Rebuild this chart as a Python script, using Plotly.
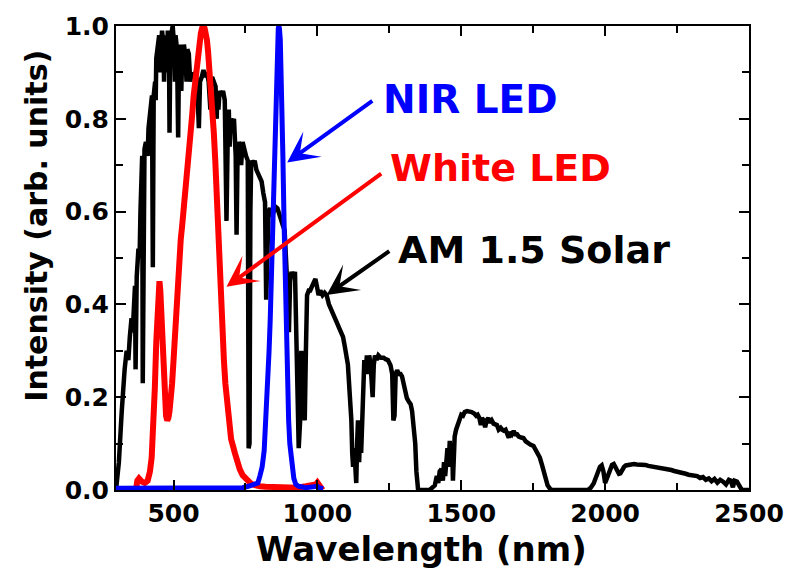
import plotly.graph_objects as go

# AM 1.5 solar spectrum (normalised)
solar_wl = [
    300, 310, 320, 325, 330, 337, 343, 348, 354, 358,
    362, 366, 368, 372, 378, 382, 385, 388, 391, 393,
    395, 399, 404, 410, 413, 420, 425, 428, 431, 436,
    438, 440, 445, 450, 452, 455, 460, 465, 467, 470,
    475, 478, 480, 484, 486, 489, 493, 497, 502, 505,
    507, 512, 516, 519, 524, 527, 530, 533, 536, 542,
    545, 548, 553, 558, 563, 568, 575, 582, 588, 592,
    598, 604, 610, 616, 622, 628, 630, 634, 640, 646,
    650, 652, 656, 660, 666, 672, 678, 684, 688, 692,
    695, 698, 704, 710, 716, 719, 722, 727, 733, 735,
    740, 746, 752, 758, 761, 764, 767, 770, 776, 782,
    788, 794, 800, 806, 812, 818, 822, 826, 830, 836,
    842, 848, 855, 861, 868, 874, 880, 886, 892, 897,
    901, 905, 910, 916, 922, 926, 930, 935, 940, 944,
    948, 952, 956, 960, 964, 970, 975, 982, 988, 993,
    998, 1004, 1010, 1018, 1025, 1032, 1040, 1048, 1055, 1062,
    1068, 1075, 1082, 1089, 1095, 1100, 1106, 1110, 1114, 1118,
    1121, 1124, 1128, 1132, 1135, 1138, 1141, 1145, 1148, 1152,
    1156, 1160, 1163, 1168, 1172, 1176, 1180, 1185, 1188, 1192,
    1196, 1200, 1206, 1212, 1220, 1230, 1237, 1245, 1254, 1260,
    1264, 1268, 1272, 1277, 1283, 1289, 1294, 1300, 1305, 1311,
    1318, 1324, 1329, 1334, 1340, 1344, 1347, 1350, 1390, 1400,
    1408, 1415, 1420, 1425, 1431, 1436, 1440, 1444, 1448, 1452,
    1456, 1460, 1464, 1468, 1471, 1474, 1477, 1482, 1488, 1494,
    1500, 1506, 1512, 1520, 1528, 1536, 1545, 1552, 1557, 1563,
    1568, 1572, 1578, 1583, 1588, 1594, 1600, 1606, 1612, 1618,
    1624, 1630, 1637, 1642, 1648, 1654, 1660, 1665, 1670, 1676,
    1682, 1688, 1694, 1700, 1708, 1716, 1724, 1732, 1740, 1751,
    1760, 1768, 1773, 1780, 1786, 1790, 1795, 1800, 1808, 1815,
    1940, 1950, 1960, 1968, 1975, 1982, 1988, 1994, 2000, 2006,
    2012, 2018, 2024, 2030, 2036, 2042, 2048, 2053, 2060, 2066,
    2072, 2080, 2090, 2100, 2110, 2120, 2130, 2140, 2150, 2160,
    2170, 2180, 2190, 2200, 2210, 2220, 2230, 2240, 2250, 2260,
    2270, 2280, 2290, 2300, 2310, 2320, 2330, 2340, 2350, 2360,
    2370, 2380, 2390, 2400, 2410, 2420, 2430, 2437, 2444, 2450,
    2458, 2466, 2475, 2500,
]
solar_int = [
    0.0, 0.06, 0.17, 0.23, 0.26, 0.30, 0.28, 0.33, 0.37, 0.34,
    0.42, 0.44, 0.26, 0.46, 0.52, 0.50, 0.60, 0.67, 0.72, 0.23,
    0.70, 0.735, 0.75, 0.72, 0.78, 0.82, 0.85, 0.48, 0.85, 0.88,
    0.84, 0.93, 0.97, 0.98, 0.90, 0.95, 0.99, 0.96, 0.88, 0.98,
    0.95, 0.90, 0.99, 0.96, 0.77, 0.97, 0.99, 1.0, 0.96, 0.88,
    0.98, 0.95, 0.76, 0.93, 0.96, 0.86, 0.94, 0.90, 0.96, 0.93,
    0.88, 0.95, 0.94, 0.88, 0.90, 0.89, 0.90, 0.88, 0.78, 0.88,
    0.89, 0.905, 0.89, 0.90, 0.88, 0.82, 0.875, 0.89, 0.88, 0.87,
    0.80, 0.86, 0.82, 0.86, 0.85, 0.86, 0.84, 0.58, 0.75, 0.82,
    0.74, 0.80, 0.79, 0.80, 0.72, 0.55, 0.70, 0.75, 0.74, 0.70,
    0.75, 0.73, 0.72, 0.71, 0.09, 0.10, 0.60, 0.71, 0.70, 0.71,
    0.69, 0.68, 0.67, 0.665, 0.64, 0.62, 0.41, 0.50, 0.60, 0.607,
    0.59, 0.60, 0.61, 0.607, 0.59, 0.58, 0.57, 0.56, 0.50, 0.42,
    0.34, 0.45, 0.47, 0.46, 0.47, 0.38, 0.25, 0.09, 0.15, 0.30,
    0.25, 0.20, 0.15, 0.30, 0.42, 0.43, 0.43, 0.44, 0.45, 0.455,
    0.44, 0.42, 0.43, 0.42, 0.425, 0.42, 0.40, 0.39, 0.38, 0.37,
    0.36, 0.35, 0.34, 0.33, 0.31, 0.29, 0.27, 0.23, 0.20, 0.15,
    0.08, 0.05, 0.09, 0.04, 0.015, 0.10, 0.15, 0.06, 0.12, 0.08,
    0.18, 0.25, 0.28, 0.26, 0.29, 0.25, 0.29, 0.27, 0.21, 0.20,
    0.27, 0.29, 0.28, 0.29, 0.285, 0.285, 0.282, 0.28, 0.269, 0.25,
    0.15, 0.16, 0.25, 0.258, 0.25, 0.25, 0.245, 0.23, 0.21, 0.198,
    0.19, 0.185, 0.17, 0.14, 0.10, 0.04, 0.005, 0.0, 0.0, 0.004,
    0.01, 0.03, 0.015, 0.04, 0.045, 0.02, 0.06, 0.03, 0.07, 0.09,
    0.05, 0.106, 0.06, 0.10, 0.02, 0.10, 0.115, 0.13, 0.14, 0.155,
    0.162, 0.16, 0.168, 0.17, 0.17, 0.168, 0.165, 0.16, 0.162, 0.155,
    0.14, 0.155, 0.15, 0.135, 0.15, 0.155, 0.145, 0.15, 0.143, 0.14,
    0.14, 0.13, 0.134, 0.13, 0.128, 0.13, 0.12, 0.113, 0.125, 0.12,
    0.127, 0.12, 0.12, 0.115, 0.113, 0.112, 0.105, 0.10, 0.098, 0.095,
    0.085, 0.075, 0.07, 0.055, 0.04, 0.035, 0.02, 0.01, 0.003, 0.0,
    0.0, 0.005, 0.014, 0.03, 0.043, 0.05, 0.053, 0.04, 0.015, 0.025,
    0.038, 0.045, 0.054, 0.056, 0.05, 0.04, 0.035, 0.036, 0.045, 0.05,
    0.053, 0.054, 0.055, 0.056, 0.055, 0.055, 0.056, 0.054, 0.052, 0.051,
    0.05, 0.048, 0.049, 0.047, 0.046, 0.044, 0.043, 0.041, 0.04, 0.038,
    0.036, 0.035, 0.033, 0.032, 0.03, 0.03, 0.026, 0.028, 0.022, 0.025,
    0.019, 0.024, 0.016, 0.022, 0.018, 0.012, 0.022, 0.02, 0.006, 0.02,
    0.018, 0.008, 0.0, 0.0,
]

# White LED emission (blue pump + phosphor band)
white_wl = [
    300, 370, 374, 380, 390, 400, 410, 418, 424, 430,
    435, 440, 444, 448, 451, 454, 458, 462, 466, 470,
    474, 478, 482, 486, 490, 495, 500, 505, 510, 515,
    520, 525, 530, 535, 540, 545, 550, 555, 560, 565,
    570, 575, 580, 585, 590, 595, 600, 604, 608, 612,
    616, 620, 625, 630, 635, 640, 645, 650, 655, 660,
    665, 670, 675, 680, 685, 690, 695, 700, 713, 720,
    730, 740, 750, 760, 770, 780, 790, 800, 820, 850,
    880, 900, 930, 960, 980, 995, 1000, 1005, 1012, 1018,
]
white_int = [
    0.0, 0.002, 0.02, 0.025, 0.018, 0.015, 0.02, 0.04, 0.07, 0.13,
    0.22, 0.32, 0.40, 0.44, 0.45, 0.43, 0.36, 0.29, 0.22, 0.18,
    0.16, 0.15, 0.155, 0.17, 0.19, 0.23, 0.28, 0.34, 0.40, 0.46,
    0.51, 0.54, 0.57, 0.60, 0.63, 0.67, 0.71, 0.75, 0.78, 0.81,
    0.85, 0.88, 0.91, 0.94, 0.965, 0.985, 0.997, 1.0, 0.995, 0.985,
    0.97, 0.945, 0.91, 0.87, 0.82, 0.77, 0.71, 0.63, 0.54, 0.47,
    0.40, 0.33, 0.28, 0.23, 0.19, 0.155, 0.13, 0.11, 0.08, 0.06,
    0.045, 0.032, 0.024, 0.017, 0.013, 0.011, 0.009, 0.008, 0.007, 0.006,
    0.005, 0.004, 0.005, 0.008, 0.01, 0.012, 0.016, 0.01, 0.006, 0.0,
]

# NIR LED emission
nir_wl = [
    300, 700, 740, 760, 775, 785, 793, 800, 808, 815,
    822, 827, 832, 836, 840, 844, 848, 852, 855, 858,
    861, 864, 866, 868, 871, 874, 877, 880, 884, 887,
    890, 893, 896, 900, 904, 908, 913, 918, 925, 935,
    960, 990, 1000, 1005, 1020,
]
nir_int = [
    0.004, 0.004, 0.005, 0.008, 0.01, 0.012, 0.015, 0.03, 0.05, 0.085,
    0.16, 0.226, 0.30, 0.367, 0.46, 0.58, 0.68, 0.78, 0.85, 0.92,
    0.97, 0.995, 1.0, 0.995, 0.97, 0.91, 0.83, 0.72, 0.58, 0.48,
    0.40, 0.31, 0.23, 0.15, 0.10, 0.075, 0.045, 0.025, 0.012, 0.008,
    0.005, 0.006, 0.008, 0.005, 0.003,
]

x_tickvals = [500, 1000, 1500, 2000, 2500]
y_tickvals = [0.0, 0.2, 0.4, 0.6, 0.8, 1.0]

FONT = "DejaVu Sans"

fig = go.Figure()
fig.add_trace(go.Scatter(x=solar_wl, y=solar_int, mode="lines", name="AM 1.5 Solar",
                         line=dict(color="#000000", width=4.5)))
fig.add_trace(go.Scatter(x=white_wl, y=white_int, mode="lines", name="White LED",
                         line=dict(color="#FF0000", width=6)))
fig.add_trace(go.Scatter(x=nir_wl, y=nir_int, mode="lines", name="NIR LED",
                         line=dict(color="#0000FF", width=5)))

axis_common = dict(
    showline=True, linecolor="black", linewidth=2, mirror="ticks",
    ticks="inside", ticklen=10, tickwidth=1.5, tickcolor="black",
    showgrid=False, zeroline=False,
    tickfont=dict(family=FONT, size=25, color="black", weight="bold"),
)

fig.update_xaxes(range=[300, 2500], tickvals=x_tickvals,
                 minor=dict(dtick=250, tick0=0, ticks="inside", ticklen=7, tickwidth=1.5, tickcolor="black"),
                 **axis_common)
fig.update_yaxes(range=[0, 1.0], tickvals=y_tickvals, tickformat=".1f",
                 minor=dict(dtick=0.1, tick0=0, ticks="inside", ticklen=7, tickwidth=1.5, tickcolor="black"),
                 **axis_common)

annotations = [
    # axis titles
    dict(text="Wavelength (nm)", xref="paper", yref="paper", x=0.483, y=-0.127, showarrow=False,
         xanchor="center", yanchor="middle", font=dict(family=FONT, size=34, color="black", weight="bold")),
    dict(text="Intensity (arb. units)", xref="paper", yref="paper", x=-0.126, y=0.57, showarrow=False,
         textangle=-90, xanchor="center", yanchor="middle",
         font=dict(family=FONT, size=30, color="black", weight="bold")),
    # series labels
    dict(text="NIR LED", x=1220, y=0.841, xref="x", yref="y", showarrow=False, xanchor="left", yanchor="middle",
         font=dict(family=FONT, size=39, color="#0000FF", weight="bold")),
    dict(text="White LED", x=1244, y=0.694, xref="x", yref="y", showarrow=False, xanchor="left", yanchor="middle",
         font=dict(family=FONT, size=38, color="#FF0000", weight="bold")),
    dict(text="AM 1.5 Solar", x=1272, y=0.517, xref="x", yref="y", showarrow=False, xanchor="left",
         yanchor="middle", font=dict(family=FONT, size=38, color="black", weight="bold")),
    # pointer arrows
    dict(text="", x=895, y=0.706, ax=1196, ay=0.841, xref="x", yref="y", axref="x", ayref="y",
         showarrow=True, arrowhead=3, arrowsize=1.3, arrowwidth=4, arrowcolor="#0000FF"),
    dict(text="", x=684, y=0.438, ax=1227, ay=0.684, xref="x", yref="y", axref="x", ayref="y",
         showarrow=True, arrowhead=3, arrowsize=1.3, arrowwidth=4, arrowcolor="#FF0000"),
    dict(text="", x=1032, y=0.42, ax=1255, ay=0.517, xref="x", yref="y", axref="x", ayref="y",
         showarrow=True, arrowhead=3, arrowsize=1.3, arrowwidth=4, arrowcolor="black"),
]

fig.update_layout(
    width=796, height=575,
    margin=dict(l=116, r=37, t=18, b=85),
    paper_bgcolor="white", plot_bgcolor="white",
    showlegend=False,
    annotations=annotations,
)

fig.write_html("out.html")
